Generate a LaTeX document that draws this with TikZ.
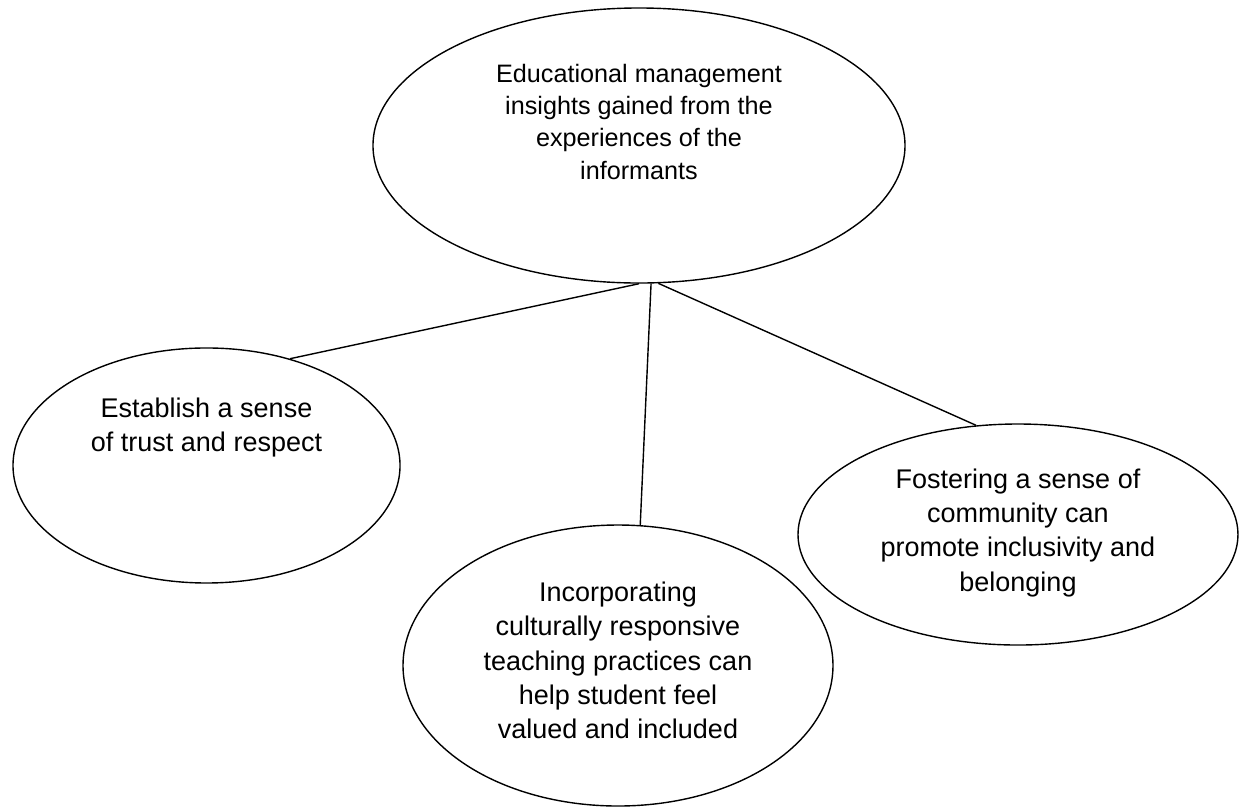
\documentclass[tikz,border=0pt]{standalone}
\usepackage{fontspec}
\setmainfont{Liberation Sans}
\usetikzlibrary{shapes.geometric}

\begin{document}
\begin{tikzpicture}[
  bubble/.style={draw=black, ellipse, line width=0.7pt, inner sep=0pt},
  txt/.style={align=center, inner sep=0pt, font=\fontsize{13.5}{17.1}\selectfont}
]
  \useasboundingbox (0, 0) rectangle (21.808, -14.181);

  \node[bubble, minimum width=9.349cm, minimum height=4.833cm,
        label={[txt, font=\fontsize{12.6}{16.2}\selectfont, yshift=0.42cm]center:Educational management\\insights gained from the\\experiences of the\\informants}]
        (insights) at (11.229, -2.557) {};
  \node[bubble, minimum width=6.801cm, minimum height=4.130cm,
        label={[txt, yshift=0.67cm]center:Establish a sense\\of trust and respect}]
        (trust) at (3.629, -8.180) {};
  \node[bubble, minimum width=7.556cm, minimum height=4.938cm,
        label={[txt, yshift=0.09cm]center:Incorporating\\culturally responsive\\teaching practices can\\help student feel\\valued and included}]
        (culture) at (10.860, -11.695) {};
  \node[bubble, minimum width=7.732cm, minimum height=3.884cm,
        label={[txt, yshift=0.03cm]center:Fostering a sense of\\community can\\promote inclusivity and\\belonging}]
        (community) at (17.889, -9.393) {};

  % plain connectors from the main idea down to each insight
  \draw[line width=0.7pt] (insights.south) -- (trust.52);
  \draw[line width=0.7pt] (insights.275) -- (culture.81);
  \draw[line width=0.7pt] (insights.278) -- (community.111);
\end{tikzpicture}
\end{document}
